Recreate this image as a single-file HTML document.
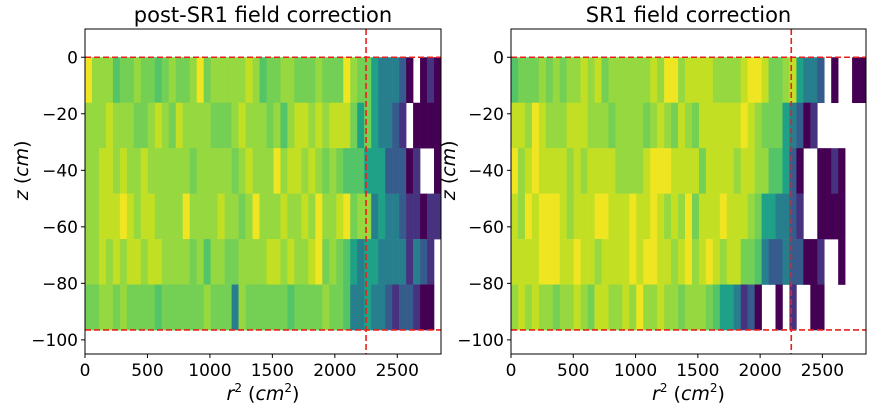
<!DOCTYPE html>
<html><head><meta charset="utf-8"><style>
body{margin:0;background:#fff;}
svg text{font-family:"DejaVu Sans","Liberation Sans",sans-serif;fill:#000;}
</style></head><body>
<svg id="fig" width="876" height="412" xmlns="http://www.w3.org/2000/svg"></svg>
<script>
// ---- data ----
const xMax = 2850;
const nBins = 51;
const zEdgesTop = 0, zEdgesBottom = -96.5;
const rCut = 2250;
const xTicks = [0,500,1000,1500,2000,2500];
const yTicks = [0,-20,-40,-60,-80,-100];
const N = null;
const titles = ["post-SR1 field correction","SR1 field correction"];
// colour level 0..9, null = empty bin; rows top (z=0) to bottom
const leftRows = [
[9,7,7,7,5,6,6,7,6,6,5,6,7,6,6,7,9,6,7,7,7,7,7,8,7,5,6,6,7,7,6,6,6,7,6,6,6,9,7,6,6, 4,3,3,3,2,0,N,0,1,0],
[7,7,7,8,7,7,7,6,6,7,8,7,6,8,7,7,7,7,6,6,6,7,8,7,7,7,6,7,5,7,8,8,7,8,7,8,8,8,6,4,6, 4,3,3,2,1,N,0,0,0,0],
[7,7,8,8,7,8,7,7,8,7,7,7,7,7,7,6,7,7,7,7,7,6,7,8,7,7,7,9,7,8,8,7,8,7,6,7,6,5,5,5,4, 4,4,2,2,2,0,1,N,N,0],
[7,7,8,8,8,9,8,7,8,8,7,7,7,7,9,7,7,7,7,8,7,7,6,7,9,7,7,7,8,7,7,8,7,9,7,7,8,9,6,7,7, 3,4,3,3,2,1,1,0,1,1],
[7,7,8,7,8,7,8,8,7,8,8,7,7,7,7,6,7,5,7,7,6,6,7,7,7,7,8,8,7,8,7,7,8,9,6,7,6,5,4,3,4, 4,3,3,3,3,1,3,2,1,N],
[6,6,7,7,6,7,6,6,6,6,5,6,6,6,6,6,6,7,6,6,6,3,7,6,6,6,6,6,6,5,6,6,6,6,7,6,6,5,3,3,4, 3,3,2,1,2,2,1,0,0,N]
];
const rightRows = [
[5,6,6,6,7,6,7,6,7,7,8,7,8,6,7,7,7,7,7,7,8,7,9,9,7,8,8,8,8,7,7,7,7,8,9,9,8,6,6,7,8, 4,3,3,2,N,0,N,N,0,0],
[8,8,7,9,8,7,7,7,8,8,8,7,7,7,6,7,7,7,7,6,7,8,7,6,8,7,6,8,8,8,8,8,8,9,8,7,6,6,6,4,3, 2,0,1,N,N,N,N,N,N,N],
[9,7,8,9,8,8,8,8,7,8,7,8,8,8,8,7,7,7,7,8,9,9,9,8,8,8,8,6,8,8,8,8,7,8,8,7,7,5,5,4,2, 0,N,N,0,0,1,0,N,N,N],
[8,7,9,8,9,9,9,8,7,8,8,8,9,9,8,8,8,9,8,8,9,8,7,8,7,9,6,8,8,8,9,8,8,8,7,6,4,4,3,3,2, 1,N,N,0,0,0,0,N,N,N],
[8,8,8,8,9,9,9,8,8,9,8,8,7,8,8,8,8,9,8,9,9,8,8,7,8,9,7,8,9,8,7,8,8,6,6,5,3,2,2,3,2, 2,0,0,1,N,N,0,N,N,N],
[7,8,7,8,7,7,6,7,7,8,7,6,8,8,7,7,8,7,9,7,7,8,7,7,6,7,7,7,6,5,4,4,3,1,2,0,N,N,0,N,1, N,N,0,0,N,N,N,N,N,N]
];
</script>
<script>
const svg=document.getElementById('fig');
const NS='http://www.w3.org/2000/svg';
const pal=[[68,1,84],[70,50,126],[54,92,141],[39,127,142],[31,161,135],[84,196,104],[116,207,85],[150,216,63],[195,223,36],[240,229,33]];
function vcol(l){const c=pal[Math.max(0,Math.min(9,Math.round(l)))];return `rgb(${c[0]},${c[1]},${c[2]})`;}
function mk(tag,attrs,parent){const e=document.createElementNS(NS,tag);for(const k in attrs)e.setAttribute(k,attrs[k]);(parent||svg).appendChild(e);return e;}
const panels=[{x0:85,x1:441,rows:leftRows,ylabX:28,key:'left'},{x0:511,x1:866,rows:rightRows,ylabX:455,key:'right'}];
const yTop=29,yBot=354,zMax=10,zMin=-105;
panels.forEach((p,pi)=>{
  const g=mk('g',{});
  
  
  const xs=v=>p.x0+(v/xMax)*(p.x1-p.x0);
  const ys=z=>yTop+(zMax-z)/(zMax-zMin)*(yBot-yTop);
  const bw=xMax/nBins, rh=(zEdgesTop-zEdgesBottom)/p.rows.length;
  p.rows.forEach((row,ri)=>{
    row.forEach((v,ci)=>{
      if(v===null)return;
      const xa=xs(ci*bw),xb=xs((ci+1)*bw),ya=ys(zEdgesTop-ri*rh),yb=ys(zEdgesTop-(ri+1)*rh);
      const r=mk('rect',{x:xa,y:ya,width:xb-xa+0.3,height:yb-ya+0.3,fill:vcol(v)},g);
      
      
    });
  });
  [zEdgesTop,zEdgesBottom].forEach(z=>{
    const l=mk('line',{x1:p.x0,x2:p.x1,y1:ys(z),y2:ys(z),stroke:'#e8201c','stroke-width':1.6,'stroke-dasharray':'6,3'},g);
    
    
  });
  const vl=mk('line',{x1:xs(rCut),x2:xs(rCut),y1:yTop,y2:yBot,stroke:'#e8201c','stroke-width':1.6,'stroke-dasharray':'6,3'},g);
  
  
  const fr=mk('rect',{x:p.x0,y:yTop,width:p.x1-p.x0,height:yBot-yTop,fill:'none',stroke:'#000','stroke-width':1},g);
  
  
  xTicks.forEach(t=>{
    const x=xs(t);
    mk('line',{x1:x,x2:x,y1:yBot,y2:yBot+4,stroke:'#000'},g);
    const tx=mk('text',{x:x,y:yBot+22,'text-anchor':'middle','font-size':17},g);
    tx.textContent=t;
    
    
  });
  yTicks.forEach(t=>{
    const y=ys(t);
    mk('line',{x1:p.x0-4,x2:p.x0,y1:y,y2:y,stroke:'#000'},g);
    const tx=mk('text',{x:p.x0-7,y:y+6,'text-anchor':'end','font-size':17},g);
    tx.textContent=t===0?'0':'\u2212'+Math.abs(t);
    
    
  });
  const ti=mk('text',{x:(p.x0+p.x1)/2,y:22,'text-anchor':'middle','font-size':21},g);
  ti.textContent=titles[pi];
  
  
  const xl=mk('text',{x:(p.x0+p.x1)/2,y:400,'text-anchor':'middle','font-size':19},g);
  xl.innerHTML='<tspan font-style="italic">r</tspan><tspan font-size="12" dy="-8">2</tspan><tspan dy="8">  (</tspan><tspan font-style="italic">cm</tspan><tspan font-size="12" dy="-8">2</tspan><tspan dy="8">)</tspan>';
  
  
  const yl=mk('text',{x:0,y:0,'text-anchor':'middle','font-size':19,transform:`translate(${p.ylabX},${ys(-40)}) rotate(-90)`},g);
  yl.innerHTML='<tspan font-style="italic">z</tspan> (<tspan font-style="italic">cm</tspan>)';
  
  
});
</script>
</body></html>
